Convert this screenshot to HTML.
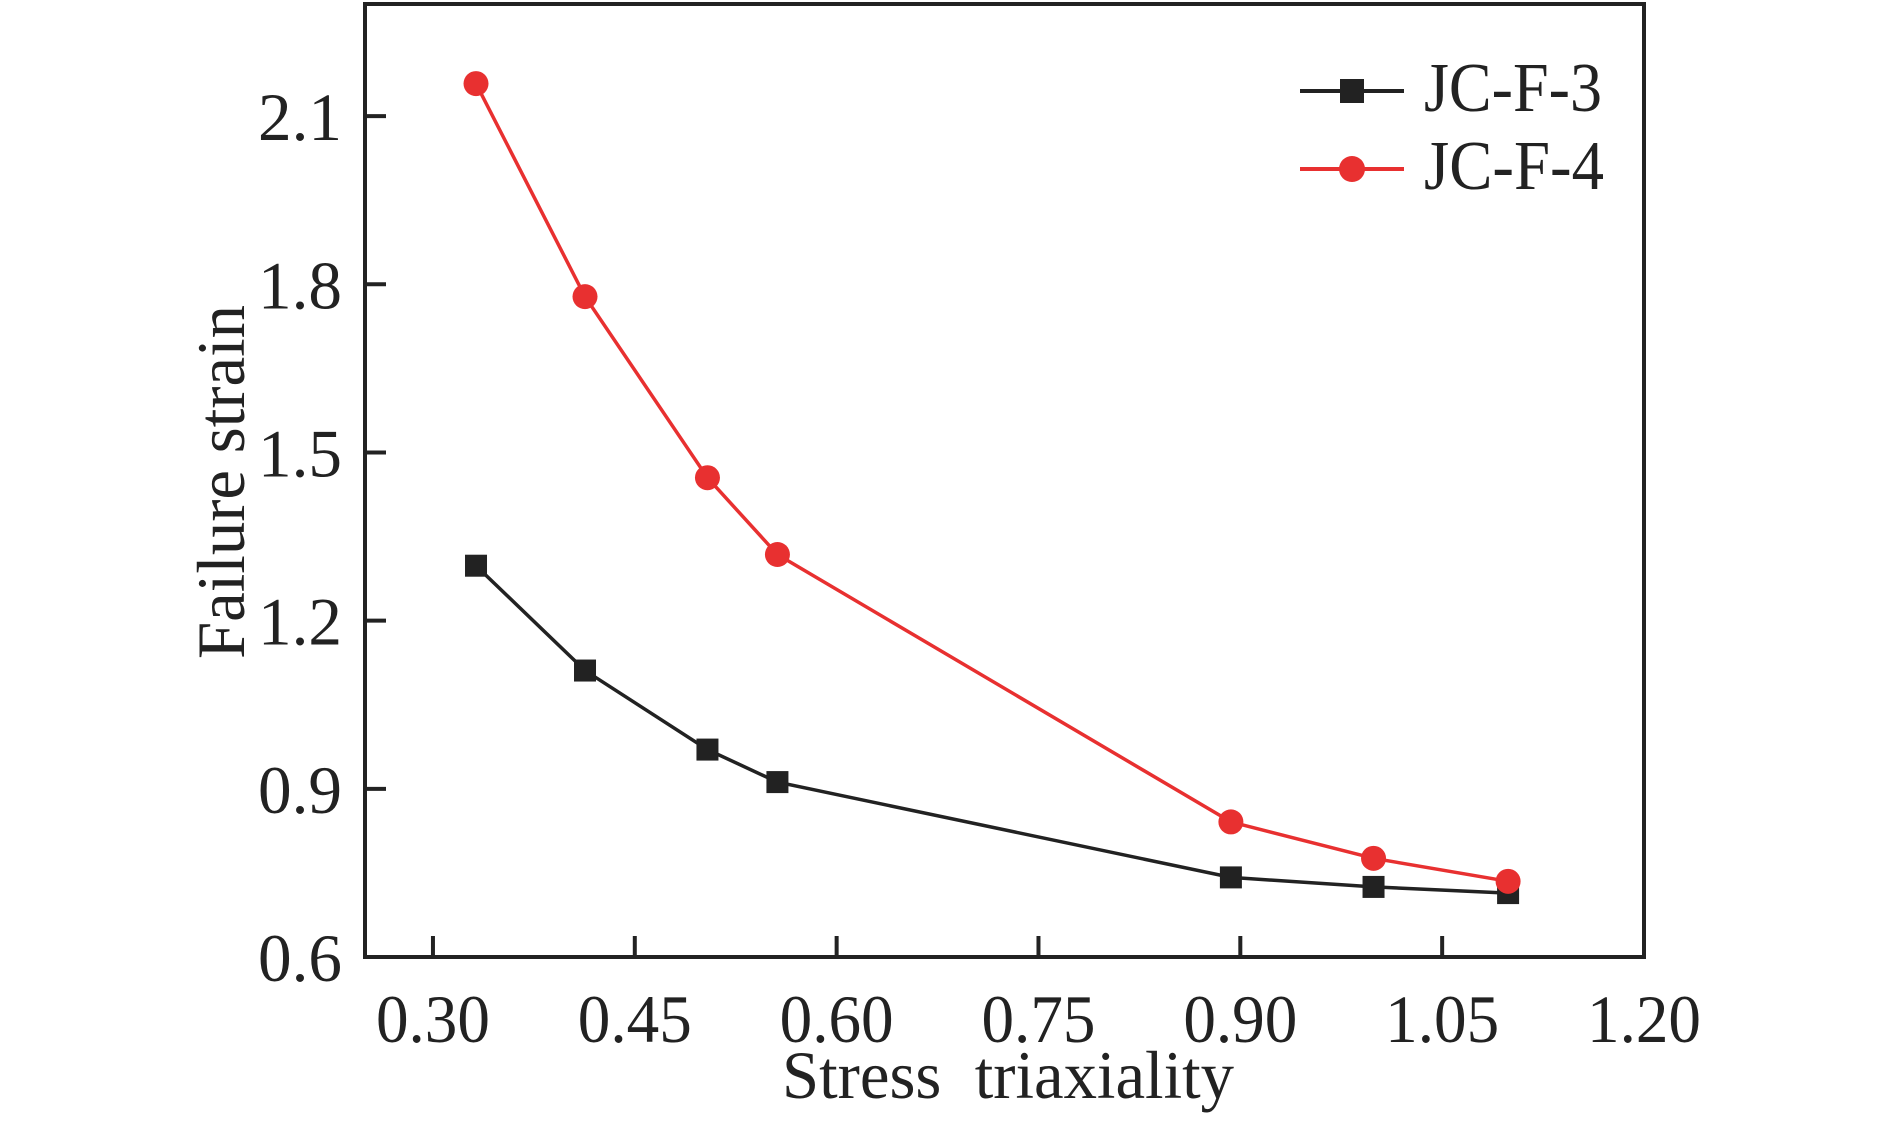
<!DOCTYPE html>
<html><head><meta charset="utf-8"><style>
html,body{margin:0;padding:0;background:#fff;}
svg{display:block;font-family:"Liberation Serif",serif;}
</style></head><body>
<svg id="chart" width="1890" height="1121" viewBox="0 0 1890 1121">
<g id="axes"></g>
<g id="series"></g>
<g id="legend">
  <line x1="1300" y1="91" x2="1404" y2="91" stroke="#222" stroke-width="4"/>
  <rect x="1340" y="79" width="24" height="24" fill="#222"/>
  <text x="1424" y="111" font-size="70" fill="#222" textLength="178" lengthAdjust="spacingAndGlyphs">JC-F-3</text>
  <line x1="1300" y1="169" x2="1404" y2="169" stroke="#e83030" stroke-width="4"/>
  <circle cx="1352" cy="169" r="13" fill="#e83030"/>
  <text x="1424" y="189" font-size="70" fill="#222" textLength="180" lengthAdjust="spacingAndGlyphs">JC-F-4</text>
</g>
<text x="1008" y="1098" font-size="68" fill="#222" text-anchor="middle" textLength="452" lengthAdjust="spacingAndGlyphs">Stress&#160;&#160;triaxiality</text>
<text transform="translate(244,482) rotate(-90)" font-size="68" fill="#222" text-anchor="middle" textLength="354" lengthAdjust="spacingAndGlyphs">Failure strain</text>
</svg>
<script>
const xValues = [0.332, 0.413, 0.504, 0.556, 0.893, 0.999, 1.099];
const seriesF3 = [1.298, 1.111, 0.970, 0.912, 0.742, 0.725, 0.714];
const seriesF4 = [2.158, 1.778, 1.455, 1.318, 0.841, 0.776, 0.735];
const xTicks = [0.30, 0.45, 0.60, 0.75, 0.90, 1.05, 1.20];
const xTickLabels = ["0.30","0.45","0.60","0.75","0.90","1.05","1.20"];
const yTicks = [0.6, 0.9, 1.2, 1.5, 1.8, 2.1];
const yTickLabels = ["0.6","0.9","1.2","1.5","1.8","2.1"];

const L=365, R=1644, T=4, B=957;
const xMin=0.2495, xMax=1.20, yMin=0.6, yMax=2.3;
const sx = v => L + (v - xMin) / (xMax - xMin) * (R - L);
const sy = v => B - (v - yMin) / (yMax - yMin) * (B - T);
const NS="http://www.w3.org/2000/svg";
function mk(tag, attrs, parent){const e=document.createElementNS(NS,tag);for(const k in attrs)e.setAttribute(k,attrs[k]);parent.appendChild(e);return e;}
const axes=document.getElementById('axes'), ser=document.getElementById('series');

const frame=mk('rect',{x:L,y:T,width:R-L,height:B-T,fill:'none',stroke:'#222','stroke-width':4},axes);



xTicks.forEach((v,i)=>{
  const x=sx(v);
  if(i<xTicks.length-1){
    const t=mk('line',{x1:x,x2:x,y1:B,y2:B-21,stroke:'#222','stroke-width':4},axes);
    
    
  }
  const lb=mk('text',{x:x,y:1042,'font-size':68,fill:'#222','text-anchor':'middle',textLength:114,lengthAdjust:'spacingAndGlyphs'},axes);
  lb.textContent=xTickLabels[i];
  
  
});
yTicks.forEach((v,i)=>{
  const y=sy(v);
  if(i>0){
    const t=mk('line',{x1:L,x2:L+21,y1:y,y2:y,stroke:'#222','stroke-width':4},axes);
    
    
  }
  const lb=mk('text',{x:342,y:y+24,'font-size':68,fill:'#222','text-anchor':'end',textLength:84,lengthAdjust:'spacingAndGlyphs'},axes);
  lb.textContent=yTickLabels[i];
  
  
});

function drawLine(vals,color,name){
  const pts=xValues.map((x,i)=>sx(x)+','+sy(vals[i])).join(' ');
  const pl=mk('polyline',{points:pts,fill:'none',stroke:color,'stroke-width':3.5},ser);
  
  
}
drawLine(seriesF3,'#222','jc-f-3');
drawLine(seriesF4,'#e83030','jc-f-4');
xValues.forEach((x,i)=>{
  const r=mk('rect',{x:sx(x)-11,y:sy(seriesF3[i])-11,width:22,height:22,fill:'#222'},ser);
  
  
});
xValues.forEach((x,i)=>{
  const c=mk('circle',{cx:sx(x),cy:sy(seriesF4[i]),r:12.5,fill:'#e83030'},ser);
  
  
});
</script>
</body></html>
